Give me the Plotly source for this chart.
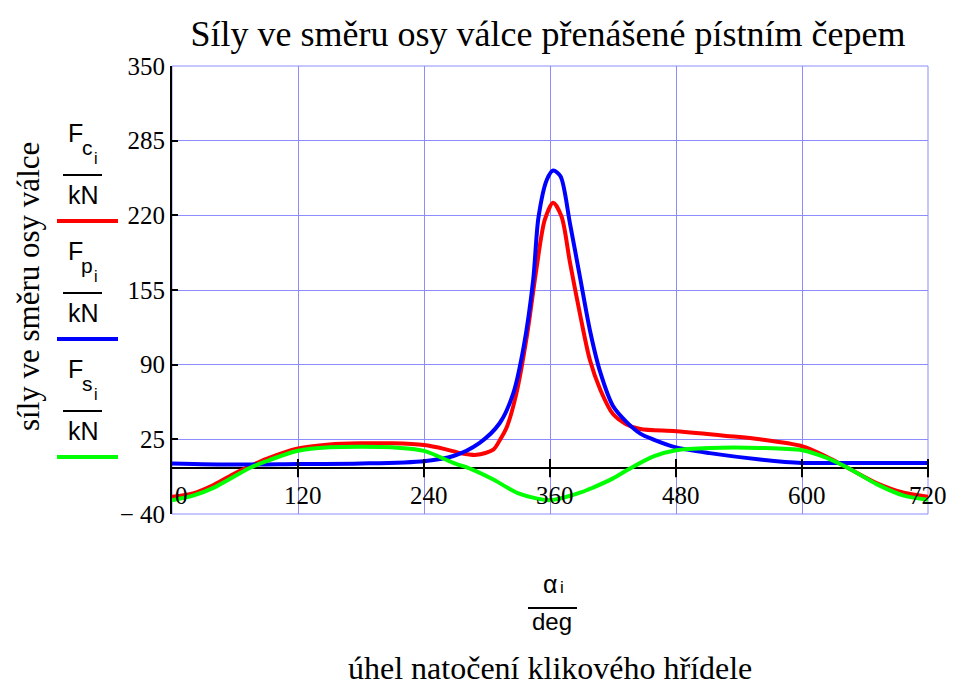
import plotly.graph_objects as go

# ---------------- data ----------------
angle_fc = [0, 20, 40, 60, 75, 90, 120, 150, 180, 210, 240, 260, 275, 290, 306, 312, 319,
            328, 338, 347, 355, 363, 371, 379, 389, 398, 408, 420, 433, 446, 480, 528,
            560, 600, 623, 646, 671, 697, 720]
force_fc = [-25, -22, -14.5, -4.5, 2, 8, 17, 20.5, 21.5, 21.5, 20, 16.5, 13, 11.5, 16, 24, 36,
            65, 115, 173, 216, 231, 219, 179, 132, 94, 68, 47, 38, 34, 32, 28,
            25, 19, 10, -1, -13, -21.5, -25]

angle_fp = [0, 60, 120, 180, 240, 268, 293, 312, 325, 335, 344, 349, 357, 363, 370, 379,
            389, 398, 408, 420, 433, 446, 458, 480, 512, 560, 600, 655, 720]
force_fp = [4, 3, 3.5, 4, 6, 10.5, 22, 39, 65, 106, 164, 218, 251, 259, 254, 213,
            164, 120, 83, 54, 40, 30, 25, 18, 13, 7.5, 4.5, 4.5, 4.5]

angle_fs = [0, 20, 40, 60, 74, 90, 120, 150, 180, 210, 240, 268, 285, 306, 330, 360, 390,
            401, 420, 435, 458, 480, 512, 560, 600, 623, 646, 671, 697, 720]
force_fs = [-28, -24, -17, -7, 0, 6, 15, 18, 18.5, 18, 15, 4.5, -1, -10, -22, -28, -21,
            -17, -9, -1, 10, 15.5, 17.5, 17.5, 15.5, 9, -1, -14, -24, -27.5]

x_tick_vals = [0, 120, 240, 360, 480, 600, 720]
x_tick_text = ["0", "120", "240", "360", "480", "600", "720"]
y_tick_vals = [-40, 25, 90, 155, 220, 285, 350]
y_tick_text = ["\u2212 40", "25", "90", "155", "220", "285", "350"]

legend_sub = ["c", "p", "s"]
legend_colors = ["#ff0000", "#0000ff", "#00ff00"]

title_text = "Síly ve směru osy válce přenášené pístním čepem"
y_title = "síly ve směru osy válce"
x_title = "úhel natočení klikového hřídele"

# ---------------- layout geometry (target screen pixels) ----------------
W, H = 955, 692
OFF = 8                      # default page body margin
L, R, T, B = 172, 928, 66, 514
GRID = "#8c8cff"
SERIF = "Liberation Serif"
SANS = "Liberation Sans"


def px(x):
    return (x - L) / (R - L)


def py(y):
    return (B - y) / (B - T)


fig = go.Figure()
for ang, f, col in [(angle_fc, force_fc, legend_colors[0]),
                    (angle_fp, force_fp, legend_colors[1]),
                    (angle_fs, force_fs, legend_colors[2])]:
    fig.add_trace(go.Scatter(x=ang, y=f, mode="lines",
                             line=dict(color=col, width=4, shape="spline", smoothing=0.8),
                             hoverinfo="skip", showlegend=False))

# tick marks crossing the zero line
fig.add_trace(go.Scatter(x=x_tick_vals[1:], y=[0] * (len(x_tick_vals) - 1), mode="markers",
                         marker=dict(symbol="line-ns", size=13,
                                     line=dict(color="black", width=2)),
                         hoverinfo="skip", showlegend=False, cliponaxis=False))


def ann(x, y, text, size, family=SANS, **kw):
    d = dict(x=px(x), y=py(y), xref="paper", yref="paper", text=text, showarrow=False,
             xanchor="center", yanchor="middle",
             font=dict(family=family, size=size, color="black"))
    d.update(kw)
    return d


annotations = []
# x tick labels next to the zero line
for v, t in zip(x_tick_vals, x_tick_text):
    shift = 9 if v == 0 else (0 if v == 720 else 5)
    annotations.append(dict(x=v, y=0, xref="x", yref="y", text=t, showarrow=False,
                            xanchor="center", yanchor="middle",
                            xshift=shift, yshift=-27,
                            font=dict(family=SERIF, size=25, color="black")))

# titles
annotations.append(ann(28, 287, y_title, 31, SERIF, textangle=-90))
annotations.append(ann(550, 668, x_title, 32, SERIF))
# x fraction alpha_i / deg
annotations.append(ann(550, 584, "α", 25))
annotations.append(ann(562, 587, "i", 17))
annotations.append(ann(552, 621, "deg", 24))

shapes = [
    dict(type="rect", xref="paper", yref="paper", x0=0, x1=1, y0=0, y1=1,
         line=dict(color=GRID, width=1), layer="below"),
    dict(type="line", xref="paper", yref="paper", x0=px(528), x1=px(577),
         y0=py(608), y1=py(608), line=dict(color="black", width=2)),
]

# left-hand legend fractions
bases = [0, 118, 236]
for sub, col, b in zip(legend_sub, legend_colors, bases):
    annotations.append(ann(75, 133 + b, "F", 25))
    annotations.append(ann(87, 147 + b, sub, 21))
    annotations.append(ann(96, 158 + b, "i", 16))
    annotations.append(ann(83, 195 + b, "kN", 25))
    shapes.append(dict(type="line", xref="paper", yref="paper", x0=px(63), x1=px(102),
                       y0=py(175 + b), y1=py(175 + b), line=dict(color="black", width=2)))
    shapes.append(dict(type="line", xref="paper", yref="paper", x0=px(57), x1=px(118),
                       y0=py(221 + b), y1=py(221 + b), line=dict(color=col, width=4)))

fig.update_layout(
    width=W, height=H,
    margin=dict(l=L - OFF, r=W - (R - OFF), t=T - OFF, b=H - (B - OFF), pad=0),
    paper_bgcolor="white", plot_bgcolor="white",
    title=dict(text=title_text, x=px(548), xanchor="center", xref="paper",
               y=1 - (33 - OFF) / H, yanchor="middle", yref="container",
               font=dict(family=SERIF, size=36, color="black")),
    xaxis=dict(range=[0, 720], tickvals=x_tick_vals, showticklabels=False, ticks="",
               showgrid=True, gridcolor=GRID, gridwidth=1, zeroline=False,
               showline=False, fixedrange=True),
    yaxis=dict(range=[-40, 350], tickvals=y_tick_vals, ticktext=y_tick_text,
               ticks="inside", ticklen=6, tickwidth=2, tickcolor="black",
               tickfont=dict(family=SERIF, size=25, color="black"),
               showgrid=True, gridcolor=GRID, gridwidth=1,
               zeroline=True, zerolinecolor="black", zerolinewidth=2,
               showline=True, linecolor="black", linewidth=2, fixedrange=True),
    annotations=annotations, shapes=shapes,
)

fig.write_html("out.html")
